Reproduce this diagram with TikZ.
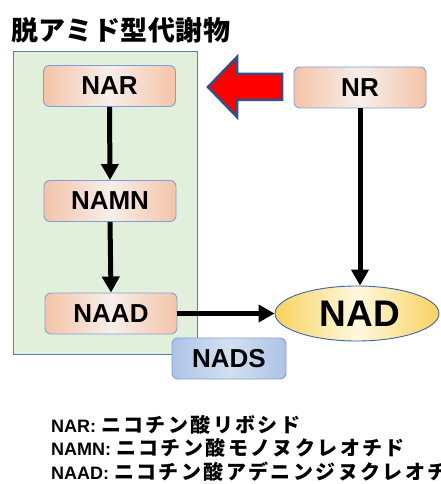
\documentclass[tikz,border=0pt]{standalone}
\usepackage{fontspec}
\setmainfont{Liberation Sans}
\newfontfamily\jp{Noto Sans CJK JP}
\usetikzlibrary{arrows.meta,shapes.geometric}
\definecolor{greenfill}{HTML}{E2EFDA}
\definecolor{greenedge}{HTML}{5B7DB5}
\definecolor{boxedge}{HTML}{7EA0DC}
\definecolor{peach}{HTML}{F4C4A8}
\definecolor{peachmid}{HTML}{F7EEEA}
\definecolor{bluebox}{HTML}{AEC3E6}
\definecolor{bluemid}{HTML}{D3DFF1}
\definecolor{gold}{HTML}{F8D25E}
\definecolor{goldmid}{HTML}{FFF8E0}
\definecolor{arrowedge}{HTML}{2F4F8F}
\definecolor{nadedge}{HTML}{3F62A8}
\begin{document}
\begin{tikzpicture}[x=1pt,y=-1pt,
  box/.style={draw=boxedge, line width=0.9pt, rounded corners=6pt,
    minimum width=132pt, minimum height=41pt, inner sep=0pt,
    left color=peach, right color=peach, middle color=peachmid,
    font=\fontsize{26}{26}\selectfont\bfseries},
  bluestyle/.style={box, left color=bluebox, right color=bluebox, middle color=bluemid,
    minimum width=114pt},
  nadstyle/.style={ellipse, draw=nadedge, line width=0.9pt, minimum width=164pt,
    minimum height=55pt, inner sep=0pt, left color=gold, right color=gold,
    middle color=goldmid, font=\fontsize{37}{37}\selectfont\bfseries},
  flow/.style={line width=5pt, -{Triangle[width=17pt,length=16pt]}},
  legend/.style={anchor=base west, inner sep=0pt, font=\fontsize{18}{20}\selectfont\bfseries},
  jpleg/.style={},
]
\clip (0,0) rectangle (441,484);
\fill[white] (0,0) rectangle (441,484);
% title
\node[anchor=west, inner sep=0pt] (title) at (11,30)
  {\jp\bfseries\fontsize{27}{27}\selectfont\addfontfeature{LetterSpace=2}脱アミド型代謝物};
% green group
\draw[draw=greenedge, fill=greenfill, line width=1pt] (13,52) rectangle (197,354);
% red arrow
\draw[draw=arrowedge, fill=red, line width=2.5pt, line join=miter]
  (208,87) -- (237,57) -- (237,74) -- (282,74) -- (282,100) -- (237,100) -- (237,117) -- cycle;
% nodes
\node[box] (NAR) at (109.5,86) {NAR};
\node[box] (NR) at (360,87.5) {NR};
\node[box] (NAMN) at (110,201) {NAMN};
\node[box] (NAAD) at (111,313.5) {NAAD};
\node[nadstyle] (NAD) at (357,313.5) {\hspace{6pt}NAD};
\node[bluestyle] (NADS) at (229,358.5) {NADS};
% connectors
\draw[flow] (NAR.south) -- (NAMN.north);
\draw[flow] (NAMN.south) -- (NAAD.north);
\draw[flow] (NR.south) -- (NR.south |- NAD.north);
\draw[flow] (NAAD.east) -- (NAD.west);
% legend
\node[legend] (leg1) at (51,432) {NAR: {\jp\bfseries\fontsize{20}{20}\selectfont\addfontfeature{LetterSpace=12}ニコチン酸リボシド}};
\node[legend] (leg2) at (51,455.5) {NAMN: {\jp\bfseries\fontsize{20}{20}\selectfont\addfontfeature{LetterSpace=12}ニコチン酸モノヌクレオチド}};
\node[legend] (leg3) at (51,479) {NAAD: {\jp\bfseries\fontsize{20}{20}\selectfont\addfontfeature{LetterSpace=12}ニコチン酸アデニンジヌクレオチド}};
\end{tikzpicture}
\end{document}
